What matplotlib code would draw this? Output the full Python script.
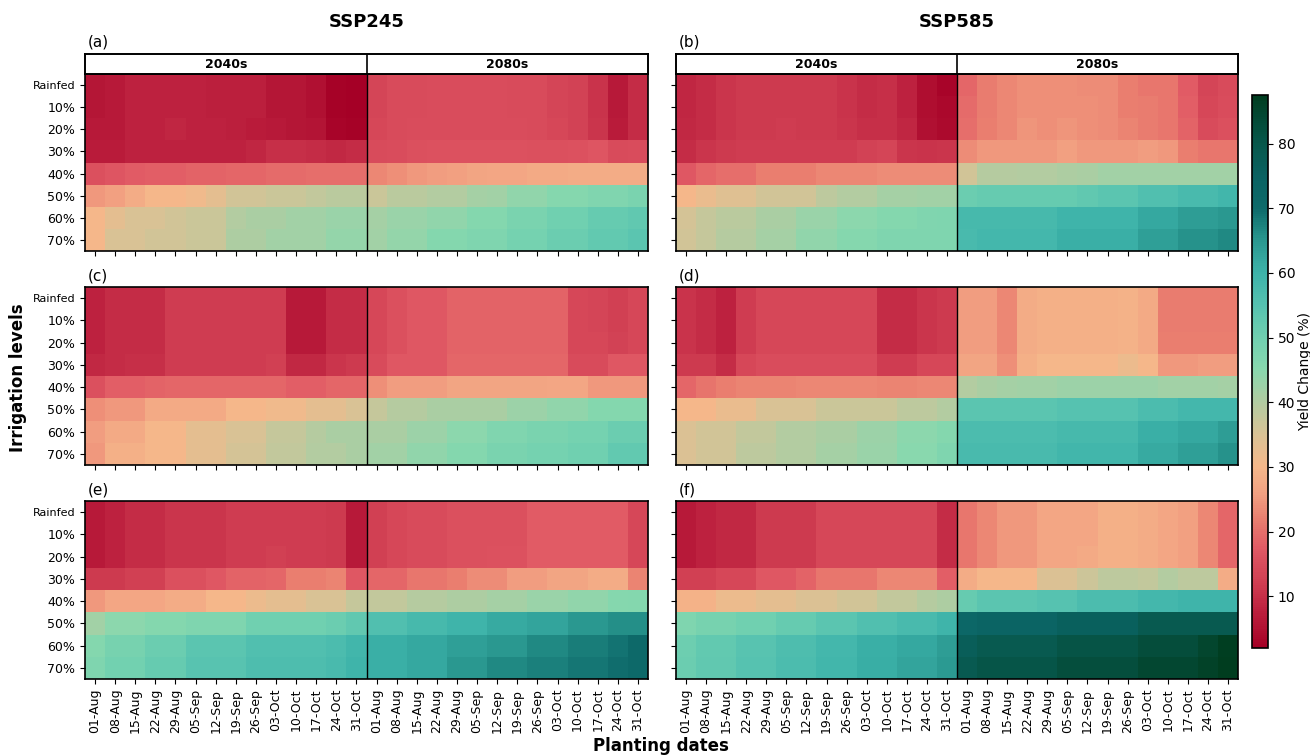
import numpy as np
import matplotlib

matplotlib.use("Agg")

import matplotlib.pyplot as plt
from matplotlib.colors import LinearSegmentedColormap, Normalize
from matplotlib.cm import ScalarMappable

levels = ["Rainfed", "10%", "20%", "30%", "40%", "50%", "60%", "70%"]
dates = ["01-Aug", "08-Aug", "15-Aug", "22-Aug", "29-Aug", "05-Sep", "12-Sep",
         "19-Sep", "26-Sep", "03-Oct", "10-Oct", "17-Oct", "24-Oct", "31-Oct"]
periods = ["2040s", "2080s"]
scenarios = ["SSP245", "SSP585"]
panel_tags = ["(a)", "(b)", "(c)", "(d)", "(e)", "(f)"]

# yield change (%) per irrigation level; 14 dates of 2040s then 14 dates of 2080s
ssp245_a = [
    [6, 6.5, 8, 8, 8, 8, 7.5, 7.5, 7.5, 6, 6, 5, 2.5, 2, 13.5, 14.5, 14.5, 15, 15, 15, 15, 14.5, 14.5, 13.5, 13, 10.5, 6.5, 9.5],
    [6, 6.5, 8, 8, 8, 8, 7.5, 7.5, 7.5, 6, 6, 5, 2.5, 2, 13.5, 14.5, 14.5, 15, 15, 15, 15, 14.5, 14.5, 13.5, 13, 10.5, 6.5, 9.5],
    [6.5, 6.5, 8, 8, 8.5, 8, 8, 7.5, 7, 6.5, 6, 5.5, 3, 2.5, 14, 14.5, 15, 15, 15, 15, 15, 15, 14.5, 14, 13, 11, 7, 9.5],
    [7, 7, 8, 8, 8, 8, 8, 8, 8.5, 10, 10, 9.5, 9, 9.5, 14.5, 15, 15.5, 16, 16, 16, 16, 16, 15.5, 15.5, 16, 16.5, 14.5, 15],
    [15.5, 16.5, 17.5, 18, 18, 18.5, 18.5, 19, 19, 19.5, 19.5, 20, 20, 20, 23, 24, 25, 25.5, 26, 26.5, 27, 27, 27.5, 27.5, 28, 28, 28, 28],
    [25, 26, 28, 30, 30, 31, 33, 36, 36, 37, 37, 38, 39, 39, 37, 39, 39, 40, 40, 41.5, 42, 44, 44, 45.5, 45.5, 46.5, 46.5, 48],
    [30, 33, 35, 35, 36, 37, 37, 40, 41, 41, 42, 42, 43, 43, 41.5, 43, 43, 44, 44, 46, 46, 48, 48, 50, 50, 52, 52, 53],
    [30, 35, 35, 36, 36, 37, 37, 40.5, 40.5, 42, 42, 42, 43.5, 43.5, 42, 43.5, 43.5, 46, 46, 47, 47, 49, 49, 51, 51, 52.5, 52.5, 54],
]
ssp585_b = [
    [8.5, 9.5, 11, 11.5, 11.5, 11.5, 11.5, 11.5, 10.5, 9.5, 10, 8, 4.5, 3, 19, 21.5, 23, 24, 24, 24, 23.5, 23.5, 22, 21, 21, 17.5, 13.5, 14.5],
    [8.5, 9.5, 11, 11.5, 11.5, 11.5, 11.5, 11.5, 10.5, 9.5, 10, 8, 4.5, 3.5, 19.5, 21.5, 23, 24, 24, 24, 24, 23.5, 22, 21.5, 21, 18, 14, 15],
    [9, 9.5, 11, 11.5, 11.5, 12, 11.5, 11.5, 11, 10, 10, 8.5, 5, 4, 20, 22, 23, 24.5, 24, 24.5, 24, 23.5, 22.5, 21.5, 21, 18.5, 14.5, 15.5],
    [9.5, 11, 11.5, 12, 12, 12, 12, 12, 12, 13, 13.5, 11, 10.5, 11, 23.5, 25, 25, 25, 25, 26, 25, 25, 25, 25.5, 25, 22, 21, 21],
    [17, 19, 20, 20, 22, 22, 22, 23, 23, 23, 23.5, 23.5, 23.5, 23.5, 36, 39.5, 39.5, 40, 40, 40.5, 41, 42, 42, 42, 42, 42, 42, 42],
    [30, 32, 34, 34, 36, 36, 36, 38.5, 40, 40, 41.5, 41.5, 42, 42, 51, 52, 52, 52, 52, 52, 53, 54, 54, 56, 56, 57.5, 57.5, 59],
    [35.5, 37.5, 39, 39, 41, 41, 43, 43, 44.5, 44.5, 46, 46, 46.5, 47, 58, 58, 58, 58, 58, 59.5, 59.5, 59.5, 59.5, 62, 62, 64, 64, 65],
    [36, 37.5, 39.5, 39.5, 41.5, 41.5, 44, 44, 45.5, 45.5, 47, 47, 47, 47, 57.5, 58.5, 58.5, 58.5, 58.5, 60.5, 60.5, 60.5, 60.5, 63.5, 63.5, 65.5, 65.5, 66.5],
]
ssp245_c = [
    [8, 9.5, 9.5, 9.5, 12, 12, 12, 12, 12, 12, 6.5, 6.5, 9.5, 9.5, 14, 15.5, 17, 17, 18.5, 18.5, 18.5, 18.5, 18.5, 18.5, 14, 13.5, 12.5, 14],
    [8, 9.5, 9.5, 9.5, 12, 12, 12, 12, 12, 12, 6.5, 6.5, 9.5, 9.5, 14, 15.5, 17, 17, 18.5, 18.5, 18.5, 18.5, 18.5, 18.5, 14, 13.5, 12.5, 14],
    [8, 9.5, 9.5, 9.5, 12, 12, 12, 12, 12, 12, 6.5, 6.5, 9.5, 9.5, 14, 15.5, 17, 17, 18.5, 18.5, 18.5, 18.5, 18.5, 18.5, 14, 14, 13, 14],
    [9, 9.5, 10, 10, 12, 12, 12, 12, 12, 12.5, 9, 9, 11, 11.5, 14.5, 17, 17, 17, 19, 19, 19, 19, 19, 19, 14.5, 14.5, 17, 17],
    [15.5, 18, 18, 18.5, 19, 19, 19, 19, 19, 19, 18, 18, 19, 19, 24, 25.5, 25.5, 25.5, 26.5, 26.5, 26.5, 26.5, 26.5, 27, 27, 25, 25, 25],
    [24, 25, 25, 27.5, 27.5, 27.5, 27.5, 30, 30, 31, 31, 33, 33, 35, 37.5, 39.5, 39.5, 41, 41, 41, 41, 42.5, 42.5, 44, 44, 46, 46, 46],
    [25.5, 27.5, 27.5, 30, 30, 33, 33, 35, 35, 37.5, 37.5, 39.5, 41, 41, 41, 41, 42.5, 42.5, 44.5, 44.5, 46.5, 46.5, 48, 48, 49, 49, 51, 51],
    [25, 28.5, 28.5, 30, 30, 33, 33, 35.5, 35.5, 38, 38, 40, 40, 41, 42, 42, 44, 44, 46, 46, 48, 48, 49, 49, 50, 50, 52.5, 52.5],
]
ssp585_d = [
    [10.5, 9.5, 8, 12, 14, 14, 14, 14, 14, 14, 9.5, 9.5, 11, 11.5, 25.5, 25.5, 23, 28, 28.5, 28.5, 28.5, 28.5, 29, 27.5, 21.5, 21.5, 21.5, 21.5],
    [10.5, 9.5, 8, 12, 14, 14, 14, 14, 14, 14, 9.5, 9.5, 11, 11.5, 25.5, 25.5, 23, 28, 28.5, 28.5, 28.5, 28.5, 29, 27.5, 21.5, 21.5, 21.5, 21.5],
    [10.5, 9.5, 8, 12, 14, 14, 14, 14, 14, 14, 9.5, 9.5, 11, 11.5, 25.5, 25.5, 23, 28, 28.5, 28.5, 28.5, 28.5, 29, 27.5, 22, 22, 22, 22],
    [11.5, 11.5, 9.5, 14, 15, 15, 15, 15, 15, 15, 12, 12, 14, 14, 26.5, 26.5, 24, 28.5, 30, 30, 30, 30, 31.5, 30, 25, 25, 25.5, 25.5],
    [19, 20.5, 22, 22.5, 22.5, 22.5, 23, 23, 23, 23, 22.5, 22.5, 23, 23, 40, 41, 41.5, 42, 42, 42.5, 42.5, 42.5, 42.5, 42.5, 42, 42, 42, 41.5],
    [30, 30, 32, 32, 35, 35, 35, 37, 37, 37, 37, 38.5, 38.5, 40, 54, 54, 54, 54, 54, 55, 55, 55, 55, 57, 57, 58.5, 58.5, 58.5],
    [34.5, 36, 36, 38, 38, 40, 40, 41, 41, 42.5, 42.5, 44.5, 44.5, 46, 57, 57, 57, 57, 57, 58, 58, 58, 58, 60.5, 60.5, 62, 62, 64],
    [34.5, 36, 36, 38.5, 38.5, 40, 40, 41.5, 41.5, 43, 43, 45, 45, 47, 57.5, 57.5, 57.5, 57.5, 57.5, 59, 59, 59, 59, 61.5, 61.5, 63.5, 63.5, 65.5],
]
ssp245_e = [
    [6.5, 8, 9.5, 9.5, 11, 11, 11, 12, 12, 12, 12, 12, 11.5, 6.5, 12.5, 14, 14.5, 14.5, 15.5, 15.5, 15.5, 15.5, 17.5, 17.5, 17.5, 17.5, 17.5, 14],
    [6.5, 8, 9.5, 9.5, 11, 11, 11, 12, 12, 12, 12, 12, 11.5, 6.5, 12.5, 14, 14.5, 14.5, 15.5, 15.5, 15.5, 15.5, 17.5, 17.5, 17.5, 17.5, 17.5, 14],
    [6.5, 8, 9.5, 9.5, 11, 11, 11, 12, 12, 12.5, 12, 12, 11.5, 6.5, 12.5, 14, 14.5, 14.5, 15.5, 15.5, 16, 16, 17.5, 17.5, 17.5, 17.5, 17.5, 14],
    [11.5, 11.5, 12.5, 12.5, 15.5, 15.5, 17, 18.5, 18.5, 19, 22, 22, 22.5, 17, 19, 19, 21, 21, 22, 23.5, 23.5, 25.5, 25.5, 26.5, 26.5, 28, 28, 22.5],
    [25, 27, 27, 27, 28, 28, 30, 30, 31.5, 33, 33, 35, 35, 37.5, 38, 38, 39.5, 39.5, 40.5, 40.5, 41.5, 41.5, 43, 43, 44, 44, 45.5, 46],
    [42, 44.5, 44.5, 46, 46, 47, 47, 47, 50, 50, 50, 50, 51, 53, 56, 56, 58, 58, 59.5, 59.5, 61.5, 61.5, 62.5, 62.5, 65, 65, 66, 66],
    [46, 48.5, 48.5, 51, 51, 54, 54, 54, 56, 56, 56, 56, 57, 59, 60.5, 60.5, 62, 62, 63.5, 63.5, 65, 65, 66.5, 66.5, 68, 68, 69, 71],
    [47, 49.5, 49.5, 52, 52, 54.5, 54.5, 54.5, 56.5, 56.5, 56.5, 56.5, 57.5, 59.5, 60.5, 60.5, 62, 62, 65, 65, 66.5, 66.5, 67.5, 67.5, 68.5, 68.5, 69.5, 71],
]
ssp585_f = [
    [6.5, 8, 9, 9, 11.5, 11.5, 11.5, 14, 14, 14, 14, 14, 14, 9.5, 21, 23, 25, 25, 27, 27, 27, 28.5, 28.5, 28, 27, 26, 23, 19],
    [6.5, 8, 9, 9, 11.5, 11.5, 11.5, 14, 14, 14, 14, 14, 14, 9.5, 21, 23, 25, 25, 27, 27, 27, 28.5, 28.5, 28, 27, 26, 23, 19],
    [6.5, 8, 9, 9, 11.5, 11.5, 11.5, 14, 14, 14, 14, 14, 14, 9.5, 21, 23, 25, 25, 27, 27, 27.5, 28.5, 28.5, 28, 27, 26, 23, 19],
    [12.5, 12.5, 14, 14, 17, 17, 18.5, 21, 21, 21, 23, 23, 23, 18, 28, 30, 30, 30, 34.5, 34.5, 36.5, 38.5, 38.5, 38, 40, 38.5, 38.5, 28],
    [29, 29, 31.5, 31.5, 33, 33, 34.5, 34.5, 36, 36, 38, 38, 39.5, 40.5, 52, 54, 54, 54, 55, 55, 57, 57, 57, 58.5, 58.5, 59.5, 59.5, 59.5],
    [47, 48.5, 48.5, 50, 50, 52, 52, 54, 54, 56, 56, 57.5, 57.5, 59.5, 72, 73.5, 73.5, 73.5, 73.5, 76, 76, 76, 76, 79, 79, 79, 79, 79],
    [50.5, 52.5, 52.5, 54.5, 54.5, 56.5, 56.5, 58.5, 58.5, 60.5, 60.5, 62, 62, 64, 77, 79, 79, 79, 79, 81, 81, 81, 81, 83, 83, 83, 85, 87],
    [51, 53, 53, 55, 55, 57, 57, 59, 59, 61, 61, 62.5, 62.5, 64.5, 78.5, 80.5, 80.5, 80.5, 80.5, 82.5, 82.5, 82.5, 82.5, 84.5, 84.5, 84.5, 86, 87.5],
]

panels = [ssp245_a, ssp585_b, ssp245_c, ssp585_d, ssp245_e, ssp585_f]

W, H = 1310, 756
fig = plt.figure(figsize=(W / 100, H / 100), dpi=100)


def box(x0, y0, x1, y1):
    # pixel box (top-left origin) -> figure fraction rect
    return [x0 / W, 1 - y1 / H, (x1 - x0) / W, (y1 - y0) / H]


vmin = min(min(r) for p in panels for r in p)
vmax = max(max(r) for p in panels for r in p)

anchors = [
    (2, "#a50026"), (8, "#be2340"), (12, "#d03e52"), (17, "#e05864"),
    (22, "#ea8070"), (26, "#f2a282"), (30, "#f5b88a"), (35, "#d8c295"),
    (40, "#b2cca1"), (45, "#88d8ae"), (50, "#70d0b0"), (55, "#56c2b0"),
    (60, "#3db3aa"), (65, "#2a9890"), (70, "#0e6b6b"), (75, "#0a6262"),
    (80, "#07584c"), (84, "#044a36"), (87.5, "#003d1f"),
]
cmap = LinearSegmentedColormap.from_list(
    "yield", [((v - anchors[0][0]) / (anchors[-1][0] - anchors[0][0]), c) for v, c in anchors])
norm = Normalize(vmin=vmin, vmax=vmax)

col_x = [(85, 648), (676, 1238)]
row_y = [(74, 251), (287, 465), (501, 679)]
ncol = len(dates) * len(periods)

for i, vals in enumerate(panels):
    r, c = divmod(i, 2)
    x0, x1 = col_x[c]
    y0, y1 = row_y[r]
    ax = fig.add_axes(box(x0, y0, x1, y1))
    data = np.array(vals)
    ax.pcolormesh(np.arange(ncol + 1), np.arange(len(levels) + 1), data,
                  cmap=cmap, norm=norm)
    ax.set_xlim(0, ncol)
    ax.set_ylim(len(levels), 0)
    ax.axvline(len(dates), color="black", lw=1.0)
    ax.set_yticks(np.arange(len(levels)) + 0.5)
    ax.set_xticks(np.arange(ncol) + 0.5)
    if c == 0:
        ax.set_yticklabels(levels, fontsize=9)
        ax.get_yticklabels()[0].set_fontsize(8)
    else:
        ax.set_yticklabels([])
    if r == 2:
        ax.set_xticklabels(dates * 2, rotation=90, fontsize=9)
    else:
        ax.set_xticklabels([])
    for s in ax.spines.values():
        s.set_linewidth(1.2)
    ax.text(0.005, 1.02 if r > 0 else 1.14, panel_tags[i], transform=ax.transAxes,
            fontsize=11, ha="left", va="bottom")

    if r == 0:
        hx = fig.add_axes(box(x0, 54, x1, 74))
        hx.set_xlim(0, ncol)
        hx.set_ylim(0, 1)
        hx.set_xticks([])
        hx.set_yticks([])
        hx.axvline(len(dates), color="black", lw=1.2)
        for s in hx.spines.values():
            s.set_linewidth(1.4)
        for k, p in enumerate(periods):
            hx.text(len(dates) * (k + 0.5), 0.5, p, ha="center", va="center",
                    fontsize=9, fontweight="bold")
        fig.text((x0 + x1) / 2 / W, 1 - 22 / H, scenarios[c], ha="center",
                 va="center", fontsize=13, fontweight="bold")

fig.text(661 / W, 1 - 746 / H, "Planting dates", ha="center", va="center",
         fontsize=12, fontweight="bold")
fig.text(18 / W, 1 - 378 / H, "Irrigation levels", ha="center", va="center",
         rotation=90, fontsize=12, fontweight="bold")

cax = fig.add_axes(box(1252, 95, 1268, 648))
cb = fig.colorbar(ScalarMappable(norm=norm, cmap=cmap), cax=cax)
cb.set_ticks([10, 20, 30, 40, 50, 60, 70, 80])
cb.ax.tick_params(labelsize=10)
cb.set_label("Yield Change (%)", fontsize=10, labelpad=2)
cb.outline.set_linewidth(1.2)

fig.savefig("out.png", dpi=100)
